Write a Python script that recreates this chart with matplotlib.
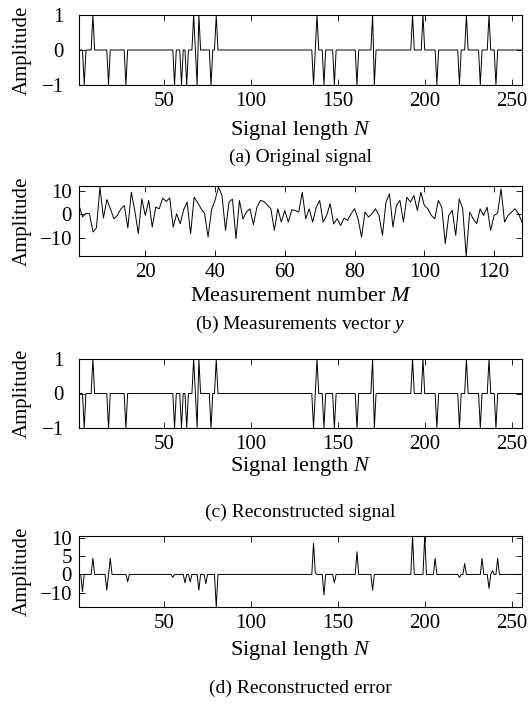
import numpy as np
import matplotlib
matplotlib.use("Agg")
import matplotlib.pyplot as plt

plt.rcParams['font.family'] = ['Liberation Serif', 'DejaVu Serif']
plt.rcParams['mathtext.fontset'] = 'custom'
plt.rcParams['mathtext.rm'] = 'Liberation Serif'
plt.rcParams['mathtext.it'] = 'Liberation Serif:italic'
plt.rcParams['axes.unicode_minus'] = True

# ---------------- data ----------------
N = 256
M = 128
pos_idx = [9, 67, 70, 80, 138, 170, 193, 199, 224, 237]
neg_idx = [4, 18, 28, 56, 60, 63, 69, 77, 136, 142, 148, 161, 171, 207, 220, 232, 241]

measurements = [
    3.8, -1.0, 0.5, 0.3, -7.4, -5.6, 11.5, -1.5, 6.3, 2.4,
    -1.8, -0.4, 2.4, 3.8, -5.7, 9.4, 1.5, -8.1, 6.6, -0.4,
    5.9, -5.3, 3.1, 2.4, 6.9, 5.5, 6.9, -5.3, 0.3, -3.9,
    2.0, 5.2, -8.1, 7.3, 5.0, 2.4, 0.5, -9.5, 2.0, 6.0,
    11.5, 8.0, -6.7, 5.2, 6.5, -10.2, 5.9, -1.8, 1.0, 2.4,
    -4.3, 3.0, 5.9, 5.5, 4.0, 2.4, -6.7, 2.4, -3.2, 1.7,
    -3.2, 2.0, 1.7, 1.0, 9.4, -1.8, 2.4, -3.2, 3.0, 5.9,
    -3.2, -0.4, 4.5, -4.0, -1.8, -4.6, -1.5, -2.5, 0.3, 2.4,
    -1.8, -9.5, 1.0, -1.1, 0.3, 2.4, -0.4, -8.8, 5.2, 8.7,
    -5.3, 3.8, 5.9, -3.2, 7.3, 5.2, 8.0, 1.7, 9.4, 3.8,
    2.4, -0.4, -1.8, 5.9, 3.1, -12.3, -0.4, 1.7, -8.8, 6.6,
    2.4, -17.5, 1.0, -1.8, -3.9, 2.4, -0.4, 3.1, -6.7, -0.4,
    0.5, 10.8, -3.2, -0.4, 1.0, 2.4, 0.3, -3.2,
]

err_idx = [3, 9, 17, 19, 29, 55, 62, 65, 70, 74, 80,
           136, 137, 142, 148, 161, 170, 193, 200, 206, 220, 223, 233, 237, 239, 242]
err_val = [-4.7, 4.4, -4.3, 4.4, -2.0, -0.8, -2.3, -2.0, -4.3, -2.5, -8.9,
           8.5, 0.5, -5.6, -2.3, 6.2, -4.3, 10.5, 10.5, 4.4, -0.8, 3.0, 4.4, -3.8, 1.0, 4.4]

sig_ticks = [50, 100, 150, 200, 250]
meas_ticks = [20, 40, 60, 80, 100, 120]
err_yticks = [10, 5, 0, -5]
err_yticklabels = ['10', '5', '0', '\u221210']

# build arrays
n = np.arange(1, N + 1)
signal = np.zeros(N)
signal[np.array(pos_idx) - 1] = 1
signal[np.array(neg_idx) - 1] = -1
recon = signal.copy()
m = np.arange(1, M + 1)
y = np.array(measurements)
err = np.zeros(N)
err[np.array(err_idx) - 1] = err_val

# ---------------- figure ----------------
W, H = 532, 706
fig = plt.figure(figsize=(W / 100, H / 100), dpi=100)
FS = 16      # x labels
TFS = 15     # tick labels / y labels
CFS = 14     # captions

def fy(px):
    return 1 - px / H

L, R = 79, 522
boxes = [(15, 85), (186, 256), (359, 428), (536, 607)]
xlab_y = [130, 297, 467, 650]
cap_y = [157, 324, 512, 688]
ypads = [11, 5, 11, 5]
captions = ['(a) Original signal', '(b) Measurements vector $y$',
            '(c) Reconstructed signal', '(d) Reconstructed error']
xlabels = ['Signal length $N$', 'Measurement number $M$',
           'Signal length $N$', 'Signal length $N$']

axes = []
for (t, b) in boxes:
    ax = fig.add_axes([L / W, fy(b), (R - L) / W, (b - t) / H])
    axes.append(ax)

lw = 0.7
axes[0].plot(n, signal, color='black', lw=lw)
axes[0].set_xlim(1, N); axes[0].set_ylim(-1, 1)
axes[0].set_yticks([-1, 0, 1]); axes[0].set_xticks(sig_ticks)

axes[1].plot(m, y, color='black', lw=lw)
axes[1].set_xlim(1, M); axes[1].set_ylim(y.min(), 12)
axes[1].set_yticks([-10, 0, 10]); axes[1].set_xticks(meas_ticks)

axes[2].plot(n, recon, color='black', lw=lw)
axes[2].set_xlim(1, N); axes[2].set_ylim(-1, 1)
axes[2].set_yticks([-1, 0, 1]); axes[2].set_xticks(sig_ticks)

axes[3].plot(n, err, color='black', lw=lw)
axes[3].set_xlim(1, N); axes[3].set_ylim(err.min(), err.max())
axes[3].set_yticks(err_yticks); axes[3].set_yticklabels(err_yticklabels)
axes[3].set_xticks(sig_ticks)

for i, ax in enumerate(axes):
    for s in ax.spines.values():
        s.set_linewidth(0.8)
    ax.tick_params(direction='in', top=True, right=True, labelsize=TFS,
                   length=4, width=0.6)
    ax.tick_params(axis='x', pad=5)
    ax.tick_params(axis='y', pad=ypads[i])
    ax.set_ylabel('Amplitude', fontsize=TFS, va='center')
    ax.yaxis.set_label_coords(22 / W, fy(sum(boxes[i]) / 2), transform=fig.transFigure)
    ax.set_xlabel(xlabels[i], fontsize=FS, va='center')
    ax.xaxis.set_label_coords(0.5 * (L + R) / W, fy(xlab_y[i]), transform=fig.transFigure)
    fig.text(0.5 * (L + R) / W, fy(cap_y[i]), captions[i], fontsize=CFS,
             ha='center', va='center')

fig.savefig('out.png', dpi=100)
